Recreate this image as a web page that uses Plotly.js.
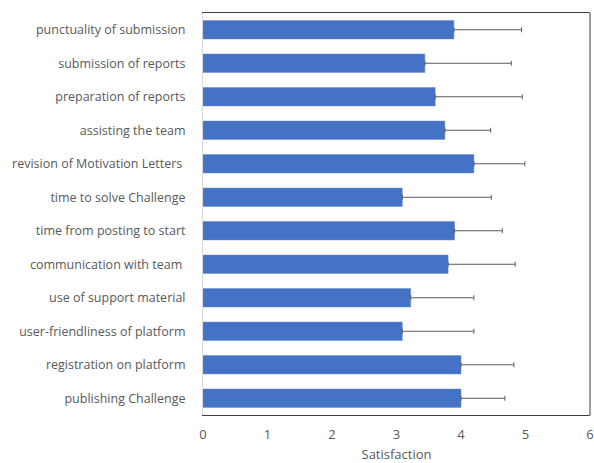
<!DOCTYPE html>
<html>
<head>
<meta charset="utf-8">
<script src="https://cdn.plot.ly/plotly-3.0.1.min.js"></script>
<style>html,body{margin:0;padding:0;background:#fff;}#chart{width:594px;height:463px;}</style>
</head>
<body>
<div id="chart"></div>
<script>
const categories = [
  "punctuality of submission",
  "submission of reports",
  "preparation of reports",
  "assisting the team",
  "revision of Motivation Letters ",
  "time to solve Challenge",
  "time from posting to start",
  "communication with team ",
  "use of support material",
  "user-friendliness of platform",
  "registration on platform",
  "publishing Challenge"
];
const satisfaction = [3.89, 3.44, 3.60, 3.75, 4.20, 3.09, 3.90, 3.80, 3.22, 3.09, 4.00, 4.00];
const errorPlus = [1.05, 1.34, 1.35, 0.71, 0.79, 1.38, 0.74, 1.04, 0.98, 1.11, 0.82, 0.68];
const xTicks = [0, 1, 2, 3, 4, 5, 6];

const fontFam = "Open Sans, Noto Sans, sans-serif";
const trace = {
  type: "bar",
  orientation: "h",
  y: categories,
  x: satisfaction,
  marker: {color: "#4472C4", line: {color: "#6A8FD3", width: 0.5}},
  error_x: {type: "data", symmetric: false, array: errorPlus, arrayminus: errorPlus.map(() => 0),
            color: "#5a5a5a", thickness: 1, width: 2.5},
  hoverinfo: "x+y"
};
const layout = {
  width: 594, height: 463,
  margin: {l: 203, r: 4, t: 13, b: 48},
  paper_bgcolor: "#fff", plot_bgcolor: "#fff",
  showlegend: false,
  bargap: 0.45,
  font: {family: fontFam, color: "#595959", size: 12},
  xaxis: {
    range: [0, 6], tickvals: xTicks, ticktext: xTicks.map(String),
    showgrid: false, zeroline: false,
    showline: true, linecolor: "#404040", linewidth: 1, mirror: true,
    ticks: "", ticklen: 0, ticklabelstandoff: 7,
    tickfont: {size: 13, color: "#595959", family: fontFam},
    title: {text: "Satisfaction", font: {size: 13, color: "#595959", family: fontFam}, standoff: 10}
  },
  yaxis: {
    autorange: "reversed",
    showgrid: false, zeroline: false,
    showline: true, linecolor: "#d9d9d9", linewidth: 1,
    ticks: "", ticklen: 0, ticklabelstandoff: 14,
    tickfont: {size: 12.5, color: "#595959", family: fontFam},
    automargin: false
  },
  shapes: [
    {type: "line", xref: "paper", yref: "paper", x0: 1, x1: 1, y0: 0, y1: 1,
     line: {color: "#404040", width: 1}}
  ]
};
Plotly.newPlot("chart", [trace], layout, {displayModeBar: false, staticPlot: true});
</script>
</body>
</html>
